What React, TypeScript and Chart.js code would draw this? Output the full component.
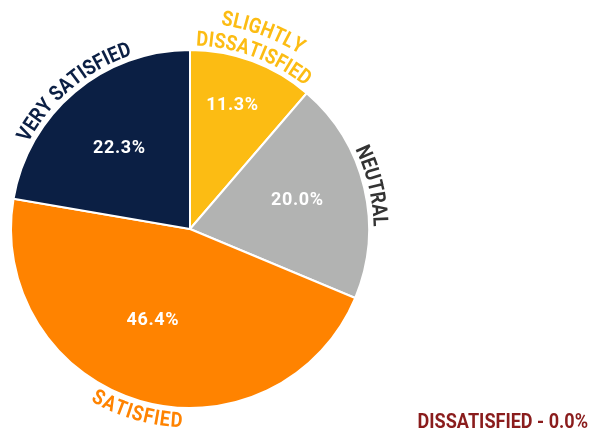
import { useEffect, useRef } from 'react';
import { Chart, registerables } from 'chart.js';

Chart.register(...registerables);

const categories = ['Slightly Dissatisfied', 'Neutral', 'Satisfied', 'Very Satisfied', 'Dissatisfied'];
const values = [11.3, 20.0, 46.4, 22.3, 0.0];
const arcLabels = [['SLIGHTLY', 'DISSATISFIED'], ['NEUTRAL'], ['SATISFIED'], ['VERY SATISFIED'], []];
const footLabel = 'DISSATISFIED';

const colors = ['#FCBC13', '#B2B3B2', '#FF8300', '#0B1F44', '#8A1C1C'];
const labelColors = ['#FCBC13', '#333333', '#FF8300', '#0B1F44', '#8A1C1C'];
// [radius fraction, angle offset in degrees] for the percentage labels
const pctPlacement = [[0.73, -1.4], [0.62, -1.5], [0.55, 6], [0.6, -1], [0, 0]];

const FONT = 'Roboto, "Noto Sans", sans-serif';
const SX = 0.86;
const ARC_SIZE = 21;

function drawArcText(ctx: CanvasRenderingContext2D, cx: number, cy: number, R: number, mid: number, text: string, flip: boolean) {
  ctx.font = `bold ${ARC_SIZE}px ${FONT}`;
  const ls = 0.6;
  const chars = [...text];
  const widths = chars.map((c) => ctx.measureText(c).width * SX + ls);
  const total = widths.reduce((a, b) => a + b, 0) - ls;
  const dir = flip ? -1 : 1;
  const start = mid - (dir * total) / (2 * R);
  const capH = ARC_SIZE * 0.711;
  let off = 0;
  chars.forEach((c, i) => {
    const a = start + (dir * (off + (widths[i] - ls) / 2)) / R;
    ctx.save();
    ctx.translate(cx + R * Math.cos(a), cy + R * Math.sin(a));
    ctx.rotate(flip ? a - Math.PI / 2 : a + Math.PI / 2);
    ctx.scale(SX, 1);
    ctx.textAlign = 'center';
    ctx.textBaseline = 'alphabetic';
    ctx.fillText(c, 0, capH / 2);
    ctx.restore();
    off += widths[i];
  });
}

const labelPlugin = {
  id: 'pieLabels',
  afterDraw(chart: any) {
    const ctx: CanvasRenderingContext2D = chart.ctx;
    const meta = chart.getDatasetMeta(0);
    meta.data.forEach((arc: any, i: number) => {
      const v = values[i];
      if (!v) return;
      const { x, y, startAngle, endAngle, outerRadius } = arc.getProps(['x', 'y', 'startAngle', 'endAngle', 'outerRadius'], true);
      const mid = (startAngle + endAngle) / 2;
      // percentage
      const [rf, offDeg] = pctPlacement[i];
      const pa = mid + (offDeg * Math.PI) / 180;
      const pr = outerRadius * rf;
      ctx.save();
      ctx.fillStyle = '#FFFFFF';
      ctx.font = `bold 18px ${FONT}`;
      (ctx as any).letterSpacing = '0.6px';
      ctx.textAlign = 'center';
      ctx.textBaseline = 'middle';
      ctx.fillText(`${v.toFixed(1)}%`, x + pr * Math.cos(pa), y + pr * Math.sin(pa));
      ctx.restore();
      // curved category label
      let m = mid;
      while (m > Math.PI) m -= 2 * Math.PI;
      while (m < -Math.PI) m += 2 * Math.PI;
      const flip = m > 0 && m < Math.PI;
      const lines = arcLabels[i];
      ctx.save();
      ctx.fillStyle = labelColors[i];
      lines.forEach((line, li) => {
        const idxFromInner = flip ? li : lines.length - 1 - li;
        const R = outerRadius + 12 + idxFromInner * 23;
        drawArcText(ctx, x, y, R, mid, line, flip);
      });
      ctx.restore();
    });
    // zero-value footnote
    values.forEach((v, i) => {
      if (v) return;
      ctx.save();
      ctx.fillStyle = labelColors[i];
      ctx.font = `bold 21px ${FONT}`;
      ctx.textAlign = 'right';
      ctx.textBaseline = 'alphabetic';
      ctx.translate(588, 428);
      ctx.scale(SX, 1);
      ctx.fillText(`${footLabel} - ${v.toFixed(1)}%`, 0, 0);
      ctx.restore();
    });
  },
};

export default function App() {
  const ref = useRef<HTMLCanvasElement | null>(null);
  useEffect(() => {
    document.body.style.margin = '0';
    const canvas = ref.current;
    if (!canvas) return;
    const chart = new Chart(canvas, {
      type: 'pie',
      data: {
        labels: categories,
        datasets: [
          {
            data: values,
            backgroundColor: colors,
            borderColor: '#FFFFFF',
            borderWidth: 2,
          },
        ],
      },
      options: {
        responsive: false,
        animation: false,
        layout: { padding: { left: 10, right: 225, top: 49, bottom: 21 } },
        plugins: {
          legend: { display: false },
          tooltip: { enabled: false },
        },
      },
      plugins: [labelPlugin],
    });
    return () => chart.destroy();
  }, []);
  return (
    <div style={{ width: 595, height: 430, background: '#FFFFFF' }}>
      <canvas ref={ref} width={595} height={430} style={{ display: 'block' }} />
    </div>
  );
}
